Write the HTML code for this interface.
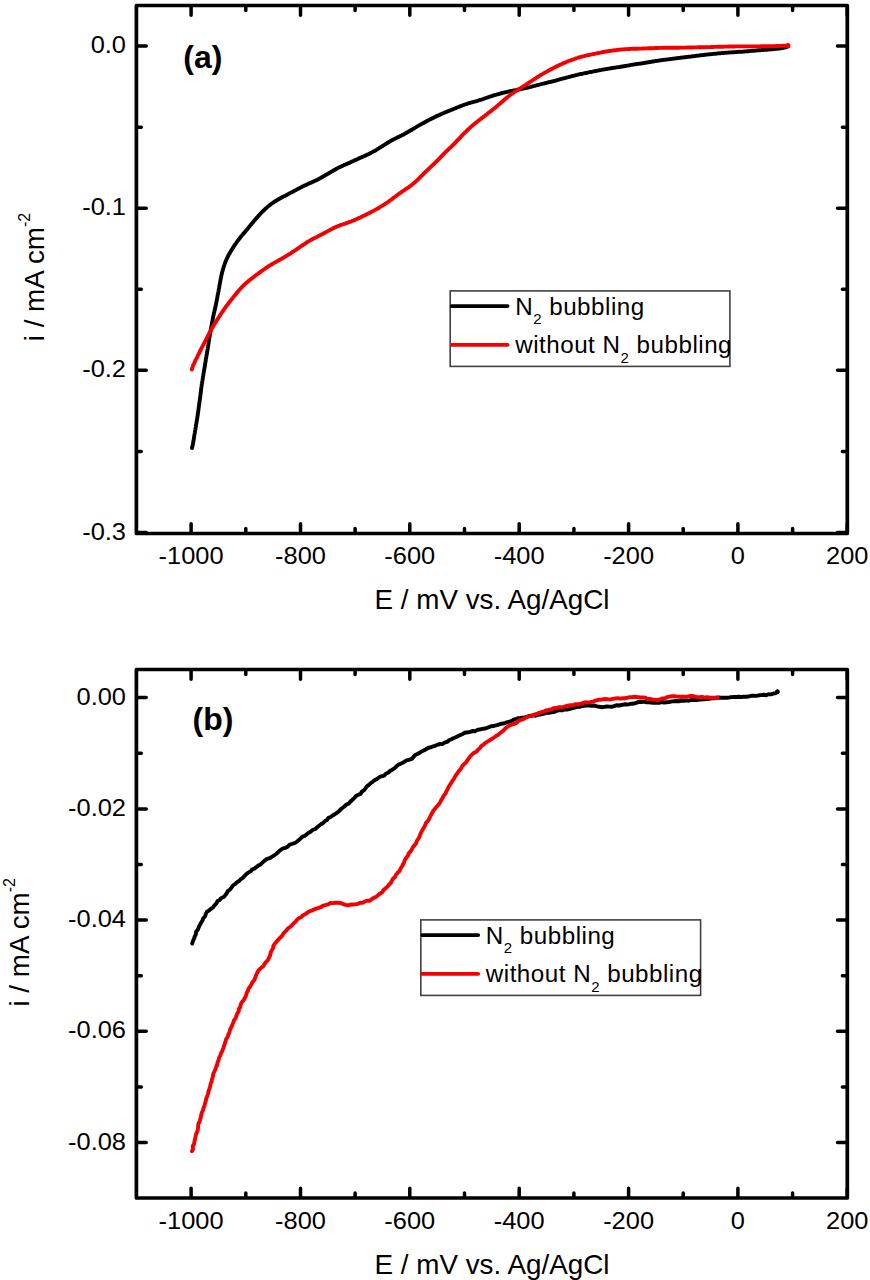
<!DOCTYPE html>
<html><head><meta charset="utf-8"><title>chart</title>
<style>html,body{margin:0;padding:0;background:#fff;width:870px;height:1280px;overflow:hidden}svg{display:block}text{font-family:"Liberation Sans", sans-serif;fill:#000}</style>
</head><body>
<svg width="870" height="1280" viewBox="0 0 870 1280" font-family='"Liberation Sans", sans-serif' font-size="24">
<rect width="870" height="1280" fill="#fff"/>
<rect x="136.4" y="5.5" width="710.9" height="528.0" fill="none" stroke="#000" stroke-width="3.7" stroke-linejoin="round"/>
<path d="M191.1 531.9V523.7M191.1 7.1V15.3M300.5 531.9V523.7M300.5 7.1V15.3M409.8 531.9V523.7M409.8 7.1V15.3M519.2 531.9V523.7M519.2 7.1V15.3M628.6 531.9V523.7M628.6 7.1V15.3M737.9 531.9V523.7M737.9 7.1V15.3M847.3 531.9V523.7M847.3 7.1V15.3M245.8 531.9V528.6M245.8 7.1V10.4M355.1 531.9V528.6M355.1 7.1V10.4M464.5 531.9V528.6M464.5 7.1V10.4M573.9 531.9V528.6M573.9 7.1V10.4M683.2 531.9V528.6M683.2 7.1V10.4M792.6 531.9V528.6M792.6 7.1V10.4M138.0 46.1H146.2M845.7 46.1H837.5M138.0 208.2H146.2M845.7 208.2H837.5M138.0 370.3H146.2M845.7 370.3H837.5M138.0 532.4H146.2M845.7 532.4H837.5M138.0 127.2H141.3M845.7 127.2H842.4M138.0 289.2H141.3M845.7 289.2H842.4M138.0 451.4H141.3M845.7 451.4H842.4" stroke="#000" stroke-width="3.5" stroke-linecap="round" fill="none"/>
<text transform="translate(126.0 53.2) scale(1.060 1)" text-anchor="end">0.0</text>
<text transform="translate(126.0 215.3) scale(1.060 1)" text-anchor="end">-0.1</text>
<text transform="translate(126.0 377.4) scale(1.060 1)" text-anchor="end">-0.2</text>
<text transform="translate(126.0 539.5) scale(1.060 1)" text-anchor="end">-0.3</text>
<text transform="translate(191.1 563.7) scale(1.060 1)" text-anchor="middle">-1000</text>
<text transform="translate(300.5 563.7) scale(1.060 1)" text-anchor="middle">-800</text>
<text transform="translate(409.8 563.7) scale(1.060 1)" text-anchor="middle">-600</text>
<text transform="translate(519.2 563.7) scale(1.060 1)" text-anchor="middle">-400</text>
<text transform="translate(628.6 563.7) scale(1.060 1)" text-anchor="middle">-200</text>
<text transform="translate(737.9 563.7) scale(1.060 1)" text-anchor="middle">0</text>
<text transform="translate(847.3 563.7) scale(1.060 1)" text-anchor="middle">200</text>
<text x="183.3" y="68.2" font-weight="bold" font-size="32">(a)</text>
<text x="492" y="609.2" text-anchor="middle" font-size="27.8">E / mV vs. Ag/AgCl</text>
<text transform="translate(44.0 277.0) rotate(-90)" text-anchor="middle" font-size="27.8">i / mA cm<tspan font-size="16" dy="-14.2">-2</tspan></text>
<rect x="450.2" y="290.9" width="279.7" height="75.5" fill="#fff" stroke="#404040" stroke-width="1.6"/>
<line x1="451.7" y1="306.1" x2="507.6" y2="306.1" stroke="#000" stroke-width="3.8" stroke-linecap="round"/>
<line x1="451.7" y1="344.8" x2="507.6" y2="344.8" stroke="#f50000" stroke-width="3.8" stroke-linecap="round"/>
<text x="515.2" y="314.7" font-size="24.2" letter-spacing="0.5">N<tspan font-size="15" dy="9.6">2</tspan><tspan dy="-9.6"> bubbling</tspan></text>
<text x="515.2" y="353.4" font-size="24.2" letter-spacing="0.5">without N<tspan font-size="15" dy="9.6">2</tspan><tspan dy="-9.6"> bubbling</tspan></text>
<polyline points="192.0,448.0 192.2,447.0 192.5,446.1 192.7,445.1 192.9,444.1 193.1,443.1 193.2,442.1 193.4,441.1 193.6,440.2 193.8,439.2 193.9,438.2 194.1,437.2 194.2,436.2 194.4,435.2 194.6,434.2 194.7,433.3 194.9,432.3 195.0,431.3 195.2,430.3 195.4,429.3 195.5,428.3 195.7,427.3 195.9,426.3 196.0,425.4 196.2,424.4 196.4,423.4 196.5,422.4 196.7,421.4 196.9,420.4 197.0,419.4 197.2,418.5 197.3,417.5 197.5,416.5 197.6,415.5 197.8,414.5 197.9,413.5 198.1,412.5 198.2,411.5 198.3,410.5 198.5,409.6 198.6,408.6 198.7,407.6 198.9,406.6 199.0,405.6 199.1,404.6 199.3,403.6 199.4,402.6 199.5,401.6 199.7,400.6 199.8,399.6 200.0,398.7 200.1,397.7 200.2,396.7 200.3,395.7 200.5,394.7 200.6,393.7 200.7,392.7 200.8,391.7 201.0,390.7 201.1,389.7 201.2,388.7 201.3,387.7 201.5,386.8 201.6,385.8 201.7,384.8 201.9,383.8 202.0,382.8 202.2,381.8 202.4,380.8 202.5,379.8 202.7,378.8 202.8,377.9 203.0,376.9 203.2,375.9 203.3,374.9 203.5,373.9 203.7,372.9 203.8,371.9 204.0,371.0 204.2,370.0 204.3,369.0 204.5,368.0 204.7,367.0 204.8,366.0 205.0,365.0 205.1,364.0 205.3,363.1 205.5,362.1 205.6,361.1 205.8,360.1 205.9,359.1 206.1,358.1 206.3,357.1 206.4,356.2 206.6,355.2 206.8,354.2 207.0,353.2 207.1,352.2 207.3,351.2 207.4,350.2 207.6,349.3 207.8,348.3 207.9,347.3 208.1,346.3 208.2,345.3 208.4,344.3 208.5,343.3 208.7,342.3 208.8,341.3 209.0,340.4 209.1,339.4 209.3,338.4 209.5,337.4 209.6,336.4 209.8,335.4 210.0,334.4 210.1,333.5 210.3,332.5 210.5,331.5 210.7,330.5 210.8,329.5 211.0,328.5 211.2,327.6 211.4,326.6 211.6,325.6 211.7,324.6 211.9,323.6 212.1,322.6 212.3,321.7 212.5,320.7 212.7,319.7 212.8,318.7 213.0,317.7 213.2,316.7 213.4,315.8 213.6,314.8 213.8,313.8 214.1,312.8 214.3,311.9 214.5,310.9 214.7,309.9 215.0,308.9 215.2,308.0 215.4,307.0 215.6,306.0 215.8,305.0 216.0,304.1 216.2,303.1 216.4,302.1 216.6,301.1 216.8,300.1 217.0,299.1 217.2,298.2 217.4,297.2 217.5,296.2 217.7,295.2 217.9,294.2 218.1,293.2 218.3,292.3 218.5,291.3 218.6,290.3 218.8,289.3 219.0,288.3 219.2,287.3 219.4,286.4 219.5,285.4 219.7,284.4 219.9,283.4 220.1,282.4 220.2,281.4 220.4,280.5 220.6,279.5 220.8,278.5 221.0,277.5 221.2,276.5 221.4,275.6 221.6,274.6 221.8,273.6 222.1,272.6 222.3,271.7 222.6,270.7 222.8,269.7 223.1,268.8 223.4,267.8 223.7,266.9 224.0,265.9 224.3,265.0 224.6,264.0 225.0,263.1 225.3,262.2 225.7,261.2 226.1,260.3 226.5,259.4 226.9,258.5 227.3,257.6 227.8,256.7 228.2,255.8 228.7,254.9 229.2,254.0 229.7,253.2 230.2,252.3 230.7,251.5 231.2,250.6 231.7,249.8 232.3,248.9 232.8,248.1 233.3,247.2 233.9,246.4 234.4,245.5 235.0,244.7 235.5,243.9 236.1,243.1 236.7,242.2 237.3,241.4 237.9,240.6 238.5,239.8 239.1,239.0 239.7,238.3 240.3,237.5 240.9,236.7 241.6,235.9 242.2,235.2 242.8,234.4 243.5,233.6 244.1,232.9 244.8,232.1 245.4,231.3 246.1,230.6 246.7,229.8 247.3,229.0 248.0,228.3 248.6,227.5 249.3,226.7 249.9,225.9 250.5,225.2 251.2,224.4 251.8,223.6 252.5,222.9 253.1,222.1 253.8,221.3 254.4,220.6 255.1,219.8 255.7,219.1 256.3,218.3 257.0,217.5 257.7,216.8 258.3,216.0 259.0,215.3 259.7,214.6 260.3,213.8 261.0,213.1 261.7,212.4 262.4,211.7 263.1,211.0 263.9,210.3 264.6,209.6 265.3,208.9 266.1,208.3 266.8,207.6 267.6,206.9 268.3,206.3 269.1,205.7 269.9,205.0 270.7,204.4 271.5,203.8 272.3,203.2 273.1,202.7 273.9,202.1 274.7,201.5 275.6,201.0 276.4,200.5 277.3,200.0 278.1,199.5 279.0,199.0 279.9,198.5 280.8,198.0 281.6,197.5 282.5,197.0 283.4,196.6 284.3,196.1 285.2,195.7 286.1,195.2 287.0,194.8 287.9,194.3 288.7,193.8 289.6,193.4 290.5,192.9 291.4,192.4 292.3,192.0 293.2,191.5 294.0,191.0 294.9,190.5 295.8,190.1 296.7,189.6 297.5,189.1 298.4,188.6 299.3,188.2 300.2,187.7 301.1,187.3 302.0,186.8 302.9,186.4 303.8,185.9 304.7,185.5 305.6,185.1 306.5,184.7 307.4,184.2 308.3,183.8 309.2,183.4 310.2,183.0 311.1,182.6 312.0,182.2 312.9,181.8 313.8,181.4 314.7,181.0 315.6,180.6 316.5,180.1 317.4,179.7 318.3,179.2 319.2,178.8 320.1,178.3 320.9,177.8 321.8,177.3 322.7,176.8 323.5,176.3 324.4,175.8 325.2,175.3 326.1,174.8 327.0,174.3 327.8,173.8 328.7,173.3 329.6,172.8 330.4,172.3 331.3,171.8 332.2,171.3 333.0,170.8 333.9,170.3 334.8,169.8 335.6,169.3 336.5,168.8 337.4,168.4 338.3,167.9 339.2,167.4 340.1,167.0 341.0,166.6 341.9,166.1 342.8,165.7 343.7,165.3 344.6,164.9 345.5,164.5 346.4,164.1 347.3,163.7 348.3,163.3 349.2,162.9 350.1,162.5 351.0,162.0 351.9,161.6 352.8,161.2 353.7,160.8 354.6,160.4 355.5,160.0 356.5,159.6 357.4,159.2 358.3,158.8 359.2,158.3 360.1,157.9 361.0,157.5 361.9,157.1 362.8,156.7 363.8,156.3 364.7,155.9 365.6,155.5 366.5,155.0 367.4,154.6 368.3,154.2 369.2,153.7 370.1,153.3 371.0,152.9 371.9,152.4 372.7,151.9 373.6,151.4 374.5,151.0 375.4,150.5 376.2,150.0 377.1,149.4 377.9,148.9 378.8,148.4 379.6,147.8 380.5,147.3 381.3,146.8 382.1,146.2 383.0,145.7 383.8,145.1 384.7,144.6 385.5,144.1 386.3,143.5 387.2,143.0 388.1,142.5 388.9,142.0 389.8,141.5 390.6,141.0 391.5,140.5 392.4,140.0 393.3,139.5 394.2,139.1 395.1,138.6 396.0,138.2 396.9,137.8 397.8,137.3 398.7,136.9 399.6,136.5 400.5,136.0 401.3,135.6 402.2,135.1 403.1,134.7 404.0,134.2 404.9,133.7 405.7,133.2 406.6,132.7 407.5,132.2 408.4,131.7 409.2,131.2 410.1,130.7 410.9,130.2 411.8,129.7 412.7,129.2 413.5,128.7 414.4,128.2 415.2,127.6 416.1,127.1 416.9,126.6 417.8,126.1 418.7,125.6 419.5,125.1 420.4,124.6 421.3,124.1 422.1,123.6 423.0,123.2 423.9,122.7 424.8,122.2 425.7,121.7 426.5,121.3 427.4,120.8 428.3,120.4 429.2,119.9 430.1,119.4 431.0,119.0 431.9,118.5 432.8,118.1 433.7,117.6 434.6,117.2 435.5,116.8 436.4,116.3 437.3,115.9 438.2,115.5 439.1,115.1 440.0,114.7 440.9,114.2 441.8,113.8 442.7,113.4 443.7,113.0 444.6,112.6 445.5,112.2 446.4,111.9 447.3,111.5 448.3,111.1 449.2,110.7 450.1,110.3 451.0,110.0 452.0,109.6 452.9,109.2 453.8,108.8 454.8,108.5 455.7,108.1 456.6,107.7 457.5,107.3 458.5,107.0 459.4,106.6 460.3,106.2 461.3,105.9 462.2,105.5 463.1,105.2 464.1,104.8 465.0,104.5 466.0,104.2 466.9,103.9 467.9,103.5 468.8,103.2 469.8,103.0 470.7,102.7 471.7,102.4 472.6,102.1 473.6,101.9 474.6,101.6 475.5,101.3 476.5,101.1 477.5,100.8 478.4,100.5 479.4,100.2 480.3,99.9 481.3,99.6 482.2,99.3 483.2,99.0 484.1,98.7 485.1,98.3 486.0,98.0 486.9,97.7 487.9,97.3 488.8,97.0 489.8,96.7 490.7,96.4 491.7,96.1 492.6,95.7 493.6,95.5 494.5,95.2 495.5,94.9 496.5,94.6 497.4,94.3 498.4,94.1 499.3,93.8 500.3,93.5 501.3,93.3 502.2,93.0 503.2,92.8 504.2,92.5 505.2,92.3 506.1,92.1 507.1,91.9 508.1,91.7 509.1,91.4 510.0,91.2 511.0,91.0 512.0,90.8 513.0,90.6 514.0,90.4 514.9,90.3 515.9,90.1 516.9,89.9 517.9,89.7 518.9,89.5 519.8,89.3 520.8,89.1 521.8,88.9 522.8,88.7 523.8,88.5 524.7,88.2 525.7,88.0 526.7,87.8 527.7,87.6 528.6,87.3 529.6,87.1 530.6,86.9 531.5,86.6 532.5,86.4 533.5,86.1 534.5,85.9 535.4,85.6 536.4,85.4 537.4,85.2 538.3,84.9 539.3,84.7 540.3,84.4 541.2,84.2 542.2,83.9 543.2,83.7 544.2,83.5 545.1,83.2 546.1,83.0 547.1,82.7 548.0,82.5 549.0,82.2 550.0,82.0 550.9,81.8 551.9,81.5 552.9,81.3 553.8,81.0 554.8,80.8 555.8,80.5 556.8,80.3 557.7,80.0 558.7,79.7 559.6,79.5 560.6,79.2 561.6,78.9 562.5,78.7 563.5,78.4 564.5,78.1 565.4,77.9 566.4,77.6 567.4,77.3 568.3,77.1 569.3,76.8 570.3,76.6 571.2,76.3 572.2,76.0 573.2,75.8 574.1,75.6 575.1,75.3 576.1,75.1 577.0,74.9 578.0,74.6 579.0,74.4 580.0,74.2 580.9,74.0 581.9,73.8 582.9,73.6 583.9,73.4 584.9,73.2 585.8,73.0 586.8,72.8 587.8,72.6 588.8,72.4 589.8,72.2 590.7,72.0 591.7,71.8 592.7,71.6 593.7,71.4 594.7,71.2 595.6,71.0 596.6,70.8 597.6,70.6 598.6,70.4 599.6,70.2 600.6,70.1 601.5,69.9 602.5,69.7 603.5,69.5 604.5,69.3 605.5,69.1 606.5,69.0 607.4,68.8 608.4,68.6 609.4,68.5 610.4,68.3 611.4,68.2 612.4,68.0 613.4,67.9 614.4,67.7 615.3,67.6 616.3,67.4 617.3,67.3 618.3,67.1 619.3,67.0 620.3,66.8 621.3,66.7 622.3,66.5 623.2,66.3 624.2,66.2 625.2,66.0 626.2,65.8 627.2,65.6 628.2,65.5 629.2,65.3 630.1,65.1 631.1,64.9 632.1,64.8 633.1,64.6 634.1,64.4 635.1,64.3 636.1,64.2 637.0,64.0 638.0,63.9 639.0,63.7 640.0,63.6 641.0,63.5 642.0,63.3 643.0,63.2 644.0,63.0 645.0,62.8 645.9,62.7 646.9,62.5 647.9,62.3 648.9,62.2 649.9,62.0 650.9,61.8 651.9,61.7 652.8,61.5 653.8,61.3 654.8,61.2 655.8,61.0 656.8,60.9 657.8,60.7 658.8,60.6 659.8,60.4 660.7,60.3 661.7,60.2 662.7,60.0 663.7,59.9 664.7,59.8 665.7,59.6 666.7,59.5 667.7,59.4 668.7,59.3 669.7,59.1 670.7,59.0 671.7,58.9 672.6,58.7 673.6,58.6 674.6,58.5 675.6,58.4 676.6,58.2 677.6,58.1 678.6,58.0 679.6,57.9 680.6,57.7 681.6,57.6 682.6,57.5 683.6,57.4 684.6,57.3 685.5,57.2 686.5,57.0 687.5,56.9 688.5,56.8 689.5,56.7 690.5,56.6 691.5,56.4 692.5,56.3 693.5,56.2 694.5,56.1 695.5,55.9 696.5,55.8 697.5,55.7 698.5,55.6 699.4,55.4 700.4,55.3 701.4,55.2 702.4,55.1 703.4,55.0 704.4,54.8 705.4,54.7 706.4,54.6 707.4,54.5 708.4,54.4 709.4,54.3 710.4,54.2 711.4,54.1 712.4,54.0 713.4,53.9 714.4,53.8 715.3,53.7 716.3,53.6 717.3,53.5 718.3,53.4 719.3,53.3 720.3,53.2 721.3,53.1 722.3,53.0 723.3,53.0 724.3,52.9 725.3,52.8 726.3,52.7 727.3,52.6 728.3,52.6 729.3,52.5 730.3,52.4 731.3,52.4 732.3,52.3 733.3,52.2 734.3,52.2 735.3,52.1 736.3,52.0 737.3,52.0 738.3,51.9 739.3,51.8 740.3,51.8 741.3,51.7 742.3,51.7 743.3,51.6 744.3,51.5 745.3,51.4 746.3,51.4 747.3,51.3 748.2,51.2 749.2,51.1 750.2,51.0 751.2,50.9 752.2,50.8 753.2,50.8 754.2,50.7 755.2,50.6 756.2,50.5 757.2,50.4 758.2,50.3 759.2,50.3 760.2,50.2 761.2,50.1 762.2,50.0 763.2,50.0 764.2,49.9 765.2,49.8 766.2,49.7 767.2,49.7 768.2,49.6 769.2,49.5 770.2,49.4 771.2,49.3 772.2,49.2 773.2,49.1 774.2,49.0 775.1,48.9 776.1,48.8 777.1,48.7 778.1,48.6 779.1,48.5 780.1,48.3 781.1,48.2 782.1,48.1 783.0,47.9 784.0,47.7 784.9,47.5 785.9,47.3 786.8,47.0 787.6,46.7 788.0,46.6" fill="none" stroke="#000" stroke-width="3.9" stroke-linejoin="round" stroke-linecap="round"/>
<polyline points="191.8,369.5 192.0,368.5 192.3,367.6 192.7,366.6 193.0,365.7 193.4,364.8 193.9,363.9 194.3,363.0 194.7,362.1 195.1,361.2 195.5,360.3 196.0,359.4 196.4,358.5 196.9,357.6 197.3,356.7 197.7,355.8 198.2,354.9 198.6,354.0 199.1,353.1 199.5,352.2 200.0,351.3 200.4,350.4 200.9,349.5 201.3,348.6 201.8,347.7 202.2,346.9 202.7,346.0 203.2,345.1 203.6,344.2 204.1,343.3 204.6,342.4 205.0,341.5 205.5,340.6 205.9,339.8 206.4,338.9 206.9,338.0 207.3,337.1 207.8,336.2 208.3,335.3 208.7,334.4 209.2,333.6 209.6,332.7 210.1,331.8 210.6,330.9 211.1,330.0 211.5,329.2 212.0,328.3 212.5,327.4 213.0,326.5 213.5,325.7 214.0,324.8 214.5,324.0 215.1,323.1 215.6,322.3 216.1,321.4 216.7,320.6 217.2,319.7 217.8,318.9 218.3,318.1 218.8,317.2 219.4,316.4 219.9,315.6 220.5,314.7 221.0,313.9 221.6,313.1 222.1,312.2 222.7,311.4 223.2,310.6 223.8,309.7 224.4,308.9 224.9,308.1 225.5,307.3 226.1,306.5 226.7,305.7 227.3,304.9 227.9,304.1 228.5,303.3 229.1,302.5 229.7,301.7 230.4,300.9 231.0,300.2 231.6,299.4 232.2,298.6 232.8,297.8 233.5,297.0 234.1,296.2 234.7,295.5 235.3,294.7 236.0,293.9 236.6,293.1 237.2,292.4 237.9,291.6 238.5,290.8 239.2,290.1 239.8,289.3 240.5,288.6 241.2,287.9 241.9,287.1 242.6,286.4 243.3,285.7 244.0,285.0 244.7,284.3 245.4,283.7 246.2,283.0 246.9,282.3 247.7,281.7 248.5,281.1 249.2,280.4 250.0,279.8 250.8,279.2 251.6,278.6 252.4,278.0 253.2,277.4 254.0,276.8 254.8,276.1 255.6,275.5 256.4,274.9 257.2,274.3 258.0,273.7 258.8,273.1 259.6,272.5 260.4,272.0 261.2,271.4 262.0,270.8 262.8,270.2 263.6,269.6 264.4,269.1 265.3,268.5 266.1,267.9 266.9,267.4 267.7,266.8 268.6,266.3 269.4,265.7 270.3,265.2 271.1,264.7 272.0,264.2 272.8,263.6 273.7,263.1 274.6,262.6 275.4,262.2 276.3,261.7 277.2,261.2 278.0,260.7 278.9,260.2 279.8,259.7 280.7,259.3 281.5,258.8 282.4,258.3 283.3,257.8 284.1,257.3 285.0,256.8 285.9,256.3 286.7,255.7 287.6,255.2 288.4,254.7 289.3,254.2 290.1,253.6 291.0,253.1 291.8,252.5 292.6,252.0 293.5,251.4 294.3,250.9 295.1,250.3 295.9,249.8 296.8,249.2 297.6,248.6 298.4,248.1 299.2,247.5 300.1,246.9 300.9,246.4 301.7,245.8 302.5,245.2 303.4,244.7 304.2,244.1 305.0,243.6 305.9,243.0 306.7,242.5 307.5,241.9 308.4,241.4 309.3,240.9 310.1,240.4 311.0,239.9 311.9,239.5 312.7,239.0 313.6,238.5 314.5,238.1 315.4,237.6 316.3,237.2 317.2,236.7 318.1,236.3 319.0,235.8 319.9,235.4 320.7,234.9 321.6,234.4 322.5,234.0 323.4,233.5 324.3,233.0 325.2,232.6 326.0,232.1 326.9,231.6 327.8,231.1 328.7,230.6 329.5,230.2 330.4,229.7 331.3,229.2 332.2,228.8 333.1,228.3 334.0,227.9 334.9,227.5 335.8,227.0 336.7,226.6 337.6,226.3 338.5,225.9 339.5,225.5 340.4,225.2 341.3,224.8 342.3,224.5 343.2,224.2 344.2,223.9 345.1,223.6 346.1,223.2 347.0,222.9 348.0,222.6 348.9,222.2 349.8,221.9 350.8,221.6 351.7,221.2 352.6,220.8 353.6,220.5 354.5,220.1 355.4,219.7 356.3,219.3 357.2,218.9 358.1,218.4 359.0,218.0 359.9,217.6 360.8,217.2 361.7,216.7 362.6,216.3 363.5,215.9 364.4,215.4 365.3,215.0 366.2,214.5 367.1,214.1 368.0,213.6 368.9,213.2 369.8,212.7 370.7,212.3 371.6,211.8 372.5,211.3 373.3,210.9 374.2,210.4 375.1,209.9 376.0,209.4 376.8,209.0 377.7,208.5 378.6,208.0 379.4,207.5 380.3,206.9 381.1,206.4 382.0,205.9 382.8,205.4 383.7,204.8 384.5,204.3 385.4,203.7 386.2,203.2 387.0,202.6 387.8,202.1 388.7,201.5 389.5,200.9 390.3,200.3 391.1,199.7 391.9,199.1 392.7,198.5 393.5,197.9 394.3,197.3 395.1,196.7 395.9,196.1 396.7,195.5 397.5,194.9 398.3,194.3 399.1,193.7 399.9,193.2 400.7,192.6 401.5,192.0 402.3,191.4 403.2,190.9 404.0,190.3 404.8,189.8 405.7,189.2 406.5,188.7 407.3,188.1 408.1,187.6 409.0,187.0 409.8,186.4 410.6,185.8 411.4,185.2 412.1,184.6 412.9,184.0 413.7,183.3 414.4,182.7 415.2,182.0 415.9,181.3 416.7,180.7 417.4,180.0 418.1,179.3 418.8,178.6 419.5,177.9 420.2,177.2 420.9,176.5 421.7,175.8 422.4,175.1 423.1,174.4 423.8,173.7 424.5,172.9 425.2,172.2 425.9,171.5 426.6,170.8 427.3,170.1 428.1,169.5 428.8,168.8 429.5,168.1 430.2,167.4 431.0,166.7 431.7,166.0 432.4,165.3 433.2,164.7 433.9,164.0 434.6,163.3 435.3,162.6 436.0,161.9 436.7,161.2 437.5,160.5 438.1,159.8 438.8,159.1 439.5,158.4 440.2,157.6 440.9,156.9 441.6,156.2 442.3,155.4 443.0,154.7 443.6,154.0 444.3,153.3 445.1,152.6 445.8,151.9 446.5,151.2 447.2,150.5 447.9,149.8 448.6,149.1 449.4,148.4 450.1,147.8 450.8,147.1 451.5,146.4 452.3,145.7 453.0,145.0 453.7,144.3 454.4,143.6 455.1,142.9 455.8,142.1 456.4,141.4 457.1,140.7 457.8,140.0 458.5,139.2 459.2,138.5 459.9,137.8 460.6,137.1 461.2,136.3 461.9,135.6 462.6,134.9 463.3,134.2 464.0,133.5 464.7,132.8 465.5,132.1 466.2,131.4 466.9,130.7 467.6,130.0 468.3,129.3 469.1,128.6 469.8,127.9 470.5,127.3 471.3,126.6 472.0,125.9 472.8,125.3 473.6,124.6 474.3,124.0 475.1,123.4 475.9,122.7 476.7,122.1 477.4,121.5 478.2,120.9 479.0,120.3 479.8,119.7 480.6,119.0 481.4,118.4 482.2,117.8 483.0,117.2 483.8,116.6 484.6,116.0 485.3,115.4 486.1,114.8 486.9,114.2 487.7,113.5 488.5,112.9 489.3,112.3 490.1,111.7 490.9,111.1 491.7,110.5 492.4,109.8 493.2,109.2 494.0,108.6 494.8,108.0 495.6,107.3 496.3,106.7 497.1,106.1 497.9,105.4 498.6,104.8 499.4,104.1 500.1,103.5 500.9,102.8 501.6,102.1 502.4,101.5 503.1,100.8 503.9,100.2 504.6,99.5 505.4,98.9 506.2,98.2 506.9,97.6 507.7,97.0 508.5,96.3 509.3,95.7 510.1,95.1 510.9,94.5 511.7,93.9 512.5,93.3 513.3,92.8 514.1,92.2 515.0,91.6 515.8,91.1 516.6,90.6 517.5,90.0 518.3,89.5 519.2,88.9 520.0,88.4 520.9,87.9 521.7,87.4 522.6,86.8 523.4,86.3 524.2,85.8 525.1,85.2 525.9,84.7 526.8,84.1 527.6,83.6 528.4,83.0 529.3,82.5 530.1,81.9 530.9,81.4 531.8,80.8 532.6,80.3 533.4,79.7 534.3,79.2 535.1,78.6 535.9,78.1 536.8,77.5 537.6,77.0 538.5,76.5 539.3,76.0 540.2,75.4 541.0,74.9 541.9,74.4 542.8,73.9 543.6,73.4 544.5,72.9 545.4,72.4 546.2,71.9 547.1,71.4 548.0,70.9 548.8,70.4 549.7,70.0 550.6,69.5 551.5,69.0 552.4,68.6 553.2,68.1 554.1,67.6 555.0,67.2 555.9,66.7 556.8,66.3 557.7,65.9 558.6,65.4 559.5,65.0 560.4,64.6 561.3,64.2 562.3,63.8 563.2,63.3 564.1,62.9 565.0,62.6 565.9,62.2 566.8,61.8 567.8,61.4 568.7,61.0 569.6,60.7 570.6,60.3 571.5,60.0 572.4,59.6 573.4,59.3 574.3,59.0 575.3,58.6 576.2,58.3 577.2,58.0 578.1,57.7 579.1,57.5 580.0,57.2 581.0,56.9 582.0,56.7 582.9,56.4 583.9,56.2 584.9,55.9 585.8,55.7 586.8,55.4 587.8,55.2 588.8,55.0 589.7,54.8 590.7,54.6 591.7,54.4 592.7,54.2 593.7,54.0 594.6,53.8 595.6,53.6 596.6,53.4 597.6,53.2 598.6,53.0 599.5,52.8 600.5,52.6 601.5,52.4 602.5,52.2 603.5,52.0 604.4,51.8 605.4,51.7 606.4,51.5 607.4,51.3 608.4,51.2 609.4,51.0 610.4,50.9 611.4,50.7 612.3,50.6 613.3,50.4 614.3,50.3 615.3,50.2 616.3,50.1 617.3,49.9 618.3,49.8 619.3,49.7 620.3,49.6 621.3,49.5 622.3,49.4 623.3,49.4 624.3,49.3 625.3,49.2 626.3,49.1 627.3,49.1 628.3,49.0 629.3,49.0 630.3,48.9 631.3,48.9 632.2,48.8 633.2,48.8 634.2,48.8 635.2,48.8 636.2,48.7 637.2,48.7 638.2,48.7 639.2,48.6 640.2,48.6 641.2,48.6 642.2,48.6 643.2,48.5 644.2,48.5 645.2,48.4 646.2,48.4 647.2,48.4 648.2,48.3 649.2,48.3 650.2,48.2 651.2,48.2 652.2,48.2 653.2,48.1 654.2,48.1 655.2,48.0 656.2,48.0 657.2,48.0 658.2,48.0 659.2,47.9 660.2,47.9 661.2,47.9 662.2,47.9 663.2,47.8 664.2,47.8 665.2,47.8 666.2,47.8 667.2,47.8 668.2,47.8 669.2,47.8 670.2,47.8 671.2,47.7 672.2,47.7 673.2,47.7 674.2,47.7 675.2,47.7 676.2,47.7 677.2,47.7 678.2,47.7 679.2,47.7 680.2,47.6 681.2,47.6 682.2,47.6 683.2,47.6 684.2,47.6 685.2,47.6 686.2,47.6 687.2,47.5 688.2,47.5 689.2,47.5 690.2,47.5 691.2,47.5 692.2,47.5 693.2,47.4 694.2,47.4 695.2,47.4 696.2,47.4 697.2,47.4 698.2,47.3 699.2,47.3 700.2,47.3 701.2,47.3 702.2,47.3 703.2,47.2 704.2,47.2 705.2,47.2 706.2,47.2 707.2,47.1 708.2,47.1 709.2,47.1 710.2,47.1 711.2,47.0 712.2,47.0 713.2,47.0 714.2,46.9 715.2,46.9 716.2,46.9 717.2,46.8 718.2,46.8 719.2,46.8 720.2,46.7 721.2,46.7 722.2,46.7 723.2,46.7 724.2,46.6 725.2,46.6 726.2,46.6 727.2,46.6 728.2,46.5 729.2,46.5 730.2,46.5 731.2,46.5 732.2,46.5 733.2,46.5 734.2,46.5 735.2,46.4 736.2,46.4 737.2,46.4 738.2,46.4 739.2,46.4 740.2,46.4 741.2,46.4 742.2,46.4 743.2,46.4 744.2,46.4 745.2,46.4 746.2,46.4 747.2,46.4 748.2,46.4 749.2,46.4 750.2,46.4 751.2,46.4 752.2,46.4 753.2,46.4 754.2,46.4 755.2,46.4 756.2,46.4 757.2,46.4 758.2,46.4 759.2,46.4 760.2,46.4 761.2,46.3 762.2,46.3 763.2,46.3 764.2,46.3 765.2,46.3 766.2,46.3 767.2,46.3 768.2,46.2 769.2,46.2 770.2,46.2 771.2,46.2 772.2,46.1 773.2,46.1 774.2,46.1 775.2,46.1 776.2,46.0 777.2,46.0 778.2,46.0 779.2,46.0 780.2,45.9 781.2,45.9 782.2,45.8 783.2,45.8 784.2,45.8 785.2,45.7 786.2,45.7 787.1,45.6 788.0,45.6" fill="none" stroke="#f50000" stroke-width="3.9" stroke-linejoin="round" stroke-linecap="round"/>
<circle cx="788.0" cy="45.5" r="2.5" fill="#f50000"/>
<rect x="136.4" y="669.5" width="710.9" height="528.5" fill="none" stroke="#000" stroke-width="3.7" stroke-linejoin="round"/>
<path d="M191.1 1196.4V1188.2M191.1 671.1V679.3M300.5 1196.4V1188.2M300.5 671.1V679.3M409.8 1196.4V1188.2M409.8 671.1V679.3M519.2 1196.4V1188.2M519.2 671.1V679.3M628.6 1196.4V1188.2M628.6 671.1V679.3M737.9 1196.4V1188.2M737.9 671.1V679.3M847.3 1196.4V1188.2M847.3 671.1V679.3M245.8 1196.4V1193.1M245.8 671.1V674.4M355.1 1196.4V1193.1M355.1 671.1V674.4M464.5 1196.4V1193.1M464.5 671.1V674.4M573.9 1196.4V1193.1M573.9 671.1V674.4M683.2 1196.4V1193.1M683.2 671.1V674.4M792.6 1196.4V1193.1M792.6 671.1V674.4M138.0 697.6H146.2M845.7 697.6H837.5M138.0 808.9H146.2M845.7 808.9H837.5M138.0 920.1H146.2M845.7 920.1H837.5M138.0 1031.3H146.2M845.7 1031.3H837.5M138.0 1142.6H146.2M845.7 1142.6H837.5M138.0 753.2H141.3M845.7 753.2H842.4M138.0 864.5H141.3M845.7 864.5H842.4M138.0 975.7H141.3M845.7 975.7H842.4M138.0 1087.0H141.3M845.7 1087.0H842.4" stroke="#000" stroke-width="3.5" stroke-linecap="round" fill="none"/>
<text transform="translate(126.0 704.7) scale(1.060 1)" text-anchor="end">0.00</text>
<text transform="translate(126.0 816.0) scale(1.060 1)" text-anchor="end">-0.02</text>
<text transform="translate(126.0 927.2) scale(1.060 1)" text-anchor="end">-0.04</text>
<text transform="translate(126.0 1038.4) scale(1.060 1)" text-anchor="end">-0.06</text>
<text transform="translate(126.0 1149.7) scale(1.060 1)" text-anchor="end">-0.08</text>
<text transform="translate(191.1 1228.5) scale(1.060 1)" text-anchor="middle">-1000</text>
<text transform="translate(300.5 1228.5) scale(1.060 1)" text-anchor="middle">-800</text>
<text transform="translate(409.8 1228.5) scale(1.060 1)" text-anchor="middle">-600</text>
<text transform="translate(519.2 1228.5) scale(1.060 1)" text-anchor="middle">-400</text>
<text transform="translate(628.6 1228.5) scale(1.060 1)" text-anchor="middle">-200</text>
<text transform="translate(737.9 1228.5) scale(1.060 1)" text-anchor="middle">0</text>
<text transform="translate(847.3 1228.5) scale(1.060 1)" text-anchor="middle">200</text>
<text x="192.5" y="729.8" font-weight="bold" font-size="32">(b)</text>
<text x="492" y="1273.6" text-anchor="middle" font-size="27.8">E / mV vs. Ag/AgCl</text>
<text transform="translate(28.7 942.3) rotate(-90)" text-anchor="middle" font-size="27.8">i / mA cm<tspan font-size="16" dy="-14.2">-2</tspan></text>
<rect x="420.8" y="919.9" width="279.8" height="75.5" fill="#fff" stroke="#404040" stroke-width="1.6"/>
<line x1="422.3" y1="935.1" x2="478.2" y2="935.1" stroke="#000" stroke-width="3.8" stroke-linecap="round"/>
<line x1="422.3" y1="973.8" x2="478.2" y2="973.8" stroke="#f50000" stroke-width="3.8" stroke-linecap="round"/>
<text x="485.8" y="943.7" font-size="24.2" letter-spacing="0.5">N<tspan font-size="15" dy="9.6">2</tspan><tspan dy="-9.6"> bubbling</tspan></text>
<text x="485.8" y="982.4" font-size="24.2" letter-spacing="0.5">without N<tspan font-size="15" dy="9.6">2</tspan><tspan dy="-9.6"> bubbling</tspan></text>
<polyline points="192.2,943.6 192.7,941.6 194.1,938.7 194.7,936.5 195.8,934.5 196.2,931.5 197.9,929.6 198.9,926.9 199.7,925.3 200.7,923.3 202.6,920.3 203.0,918.6 205.1,916.3 205.7,914.2 206.9,911.9 209.1,910.4 211.0,908.8 212.9,907.5 214.6,905.2 216.4,903.5 217.5,901.0 219.7,900.0 221.0,898.3 223.6,897.1 225.5,895.0 226.8,893.2 227.8,891.1 230.0,889.5 231.5,887.6 232.9,885.5 235.3,883.9 236.7,882.4 239.1,881.0 240.8,879.2 242.8,877.9 244.7,875.8 246.5,873.9 248.0,872.9 250.8,871.2 252.3,869.3 254.4,868.6 256.7,866.8 258.9,865.2 260.6,864.4 262.7,862.4 264.3,860.9 267.0,858.9 269.0,858.4 271.3,857.2 273.4,855.9 275.4,854.5 276.9,853.4 279.2,851.1 281.0,849.7 283.1,848.4 285.6,847.8 287.9,846.5 289.4,844.9 291.7,844.0 294.6,843.1 296.7,841.9 298.3,840.5 300.7,838.4 302.2,836.9 304.9,835.7 306.4,834.6 308.7,832.7 310.6,831.7 312.6,830.1 315.2,828.9 316.9,827.5 318.7,826.0 321.0,824.3 322.7,823.3 325.0,821.1 327.0,820.1 328.4,817.8 330.6,817.0 332.6,815.5 335.2,814.0 336.8,812.9 339.3,811.0 340.6,809.4 342.7,807.8 344.6,806.3 346.4,804.5 349.1,803.4 350.3,801.7 352.2,800.0 354.5,797.9 356.0,796.0 358.6,794.6 360.5,793.9 362.1,791.4 364.0,790.3 365.6,788.1 367.1,786.2 368.9,784.9 371.0,782.9 372.7,781.8 374.8,780.1 376.9,779.0 379.6,777.0 381.3,776.3 384.3,775.6 385.8,773.8 388.1,772.8 390.3,770.8 392.3,769.7 394.0,768.6 395.8,767.0 397.8,765.1 400.6,763.7 402.6,762.8 404.9,761.4 406.7,760.3 409.5,759.7 411.8,758.9 413.2,757.2 415.1,755.1 416.9,754.2 419.7,752.8 421.5,751.5 424.2,750.3 426.2,749.0 428.0,748.0 431.0,747.2 433.4,746.2 435.2,745.8 438.1,744.5 440.4,744.0 442.3,744.1 444.6,742.7 447.7,741.7 449.1,740.2 451.3,739.3 453.3,738.3 455.9,737.3 458.7,735.8 460.4,735.0 462.5,734.2 464.8,732.7 468.1,732.3 470.2,731.9 472.4,731.0 475.3,731.2 477.8,729.7 479.5,729.5 482.6,728.9 484.8,728.5 486.9,727.9 489.3,727.0 491.5,726.2 494.7,725.7 496.8,725.2 499.5,724.3 501.4,723.7 503.8,723.5 506.7,722.4 508.6,721.9 511.2,721.2 513.3,719.8 515.6,719.0 518.3,718.2 520.2,718.0 522.9,717.6 525.5,717.2 527.7,716.5 530.7,715.7 533.3,715.4 535.6,715.8 538.2,714.8 540.0,714.6 543.2,713.9 545.6,713.2 548.0,712.6 549.9,712.7 552.8,712.1 555.3,711.5 557.6,710.5 559.8,710.1 562.6,710.2 564.6,709.3 567.7,709.5 569.8,708.8 572.5,708.2 574.6,707.6 576.9,706.9 579.7,706.8 582.1,706.0 584.4,705.7 586.7,705.5 589.8,705.5 591.9,705.8 594.2,705.5 597.0,706.4 599.5,706.8 602.1,707.2 604.1,706.9 606.9,706.5 609.3,706.6 612.2,706.7 614.1,706.1 616.4,705.2 619.3,705.5 621.4,705.0 624.6,704.3 626.9,704.5 629.1,704.2 631.9,703.7 634.4,703.5 636.9,702.6 638.7,701.8 641.2,702.0 644.2,701.6 646.6,702.4 648.8,702.3 651.2,702.6 653.6,702.9 656.7,702.6 658.8,702.8 661.9,702.0 664.2,702.5 666.6,702.2 668.9,702.1 671.9,701.4 674.2,701.2 676.1,701.0 678.6,701.3 681.8,700.5 684.0,700.7 686.1,700.4 688.7,700.7 690.9,700.1 693.8,699.8 696.5,700.1 699.2,699.5 701.2,699.5 703.6,699.3 706.1,699.0 709.1,698.9 711.7,698.4 713.8,698.4 716.5,698.0 718.7,697.5 720.9,697.8 723.4,697.6 726.3,697.7 729.0,697.6 730.9,697.1 733.8,696.9 736.2,697.0 738.8,696.7 741.2,697.0 743.6,696.8 746.5,696.8 748.7,696.5 751.1,695.8 753.2,695.6 756.3,695.9 759.0,695.3 761.6,695.1 763.9,694.8 766.4,695.2 768.5,694.3 771.2,694.4 773.5,693.5 775.8,693.1 777.6,691.4" fill="none" stroke="#000" stroke-width="3.9" stroke-linejoin="round" stroke-linecap="round"/>
<circle cx="777.3" cy="691.9" r="2.3" fill="#000"/>
<polyline points="192.0,1151.2 193.0,1149.2 192.8,1146.0 194.0,1144.1 194.5,1141.3 195.0,1139.1 195.6,1136.3 196.1,1134.1 197.0,1132.2 197.9,1129.4 198.1,1126.7 198.3,1124.1 199.4,1122.0 200.0,1120.1 200.8,1117.4 201.3,1114.5 202.0,1112.2 202.9,1110.6 203.7,1107.4 204.6,1105.6 205.1,1103.3 205.8,1100.8 206.2,1098.5 207.5,1095.4 208.1,1093.5 208.6,1091.0 209.4,1089.0 210.1,1086.5 210.6,1084.1 211.7,1081.3 212.0,1079.3 212.9,1076.5 213.2,1074.0 214.4,1071.5 215.4,1069.2 216.2,1066.9 217.1,1064.9 217.6,1062.4 218.6,1060.1 219.2,1057.4 220.2,1055.7 221.3,1052.6 222.3,1050.9 223.3,1048.1 224.1,1045.6 224.9,1043.5 225.4,1041.7 226.2,1039.1 227.9,1036.5 228.2,1034.8 229.4,1032.3 230.0,1029.7 231.1,1027.6 232.0,1025.6 233.0,1023.1 234.0,1020.4 235.7,1018.1 236.2,1016.2 237.3,1013.4 238.8,1011.1 238.8,1009.0 240.3,1007.0 240.8,1004.4 241.8,1002.2 243.6,1000.2 244.8,998.0 245.9,995.7 246.6,993.0 247.9,990.9 248.5,988.7 250.4,986.2 251.4,984.3 252.6,981.9 254.3,979.9 255.2,977.9 255.9,975.8 257.1,973.1 258.2,971.0 259.5,969.3 261.4,967.6 263.5,965.9 264.7,963.6 266.3,961.8 268.0,959.9 269.3,957.2 270.1,955.2 270.7,952.5 271.9,950.2 273.1,948.0 273.5,945.6 274.9,943.5 276.6,941.7 278.0,939.9 279.5,938.2 281.8,936.2 283.0,934.1 284.8,931.9 286.4,930.5 288.0,928.3 290.3,926.8 291.8,925.5 293.7,923.2 295.8,921.5 296.7,920.1 298.7,918.2 301.4,917.0 302.8,915.4 305.2,914.1 307.1,912.8 309.2,911.3 311.6,910.7 313.7,909.6 316.2,908.7 318.8,907.9 321.4,906.9 323.1,905.6 325.3,905.2 328.2,904.4 330.6,902.9 333.0,903.1 335.6,902.7 337.8,902.7 340.6,903.0 342.8,903.9 345.5,904.9 348.0,905.4 349.9,904.8 352.6,904.5 355.0,904.4 357.8,903.8 360.2,902.8 362.2,902.9 364.4,901.8 366.7,900.8 369.8,900.7 371.9,899.0 373.8,897.8 376.2,896.9 378.0,895.3 379.7,893.7 382.3,892.2 383.3,890.3 385.6,888.2 387.4,886.6 388.9,884.7 390.8,883.1 391.9,880.5 393.3,878.4 394.9,877.2 396.0,874.8 397.8,872.7 399.4,871.1 400.6,868.5 402.1,866.2 403.0,864.3 404.2,862.2 404.9,859.8 406.3,857.7 408.1,855.5 408.6,853.3 410.5,851.5 411.9,849.4 412.7,847.4 414.7,845.0 416.2,843.2 416.8,841.0 418.6,838.2 419.7,836.3 420.3,834.3 421.4,831.9 422.8,829.3 424.1,827.3 425.0,825.6 426.1,822.6 427.7,821.2 429.1,818.9 430.2,816.7 431.4,814.2 432.8,811.8 433.7,810.3 435.2,808.3 437.3,806.0 438.8,804.4 440.5,801.8 441.2,800.0 442.8,797.7 443.6,795.8 445.6,793.4 446.4,791.2 447.5,789.4 448.5,787.0 450.0,784.8 451.6,782.2 452.8,780.3 454.0,778.6 455.3,776.1 456.9,773.8 458.1,772.0 459.5,770.4 461.2,768.2 462.4,765.9 464.2,764.0 465.7,762.8 467.1,760.7 468.8,758.3 470.3,756.1 472.2,754.4 474.0,752.8 476.4,751.8 477.8,749.9 480.1,747.9 481.2,746.1 483.2,744.9 485.3,743.0 487.7,741.4 489.7,740.3 491.4,739.1 493.5,737.8 496.1,736.0 497.9,735.0 499.9,733.3 501.9,731.8 503.7,730.3 505.3,728.4 507.6,726.7 509.6,725.3 512.4,724.4 514.2,724.0 516.3,723.0 518.4,721.0 520.7,719.9 523.4,719.1 525.5,717.7 527.7,716.7 530.3,716.1 532.2,715.6 534.5,714.6 537.5,713.5 539.2,712.8 541.6,712.1 544.0,711.3 546.4,710.4 549.1,709.8 551.3,709.5 553.4,708.3 556.6,708.0 559.0,707.2 561.2,707.3 563.5,706.8 566.2,706.0 569.0,705.5 570.9,705.2 573.3,704.9 576.0,704.2 578.4,704.1 581.2,703.6 583.2,702.9 585.8,702.2 587.9,702.6 590.3,702.1 593.3,701.6 595.2,700.6 598.3,699.8 600.2,699.8 602.7,699.3 605.6,699.0 608.4,699.4 610.1,699.4 612.7,698.9 615.5,698.4 618.0,698.1 620.2,698.7 623.2,698.1 625.6,698.2 627.6,697.6 630.1,697.1 632.5,697.0 635.0,696.8 637.8,697.1 640.7,697.5 643.1,697.5 645.7,697.8 647.3,699.0 650.2,699.0 652.5,699.5 655.0,699.8 657.5,700.0 660.3,699.3 662.4,698.4 665.1,698.2 667.0,697.2 669.8,696.6 671.7,696.3 674.4,696.1 677.2,696.6 679.7,696.8 682.3,696.6 684.2,696.7 687.4,696.7 689.7,696.0 691.8,696.0 694.7,696.5 696.8,697.1 700.0,697.2 702.1,696.8 704.3,697.5 707.3,697.2 709.9,697.6 712.0,697.6 714.8,697.7 717.2,697.5 717.5,697.8" fill="none" stroke="#f50000" stroke-width="3.9" stroke-linejoin="round" stroke-linecap="round"/>
</svg>
</body></html>
